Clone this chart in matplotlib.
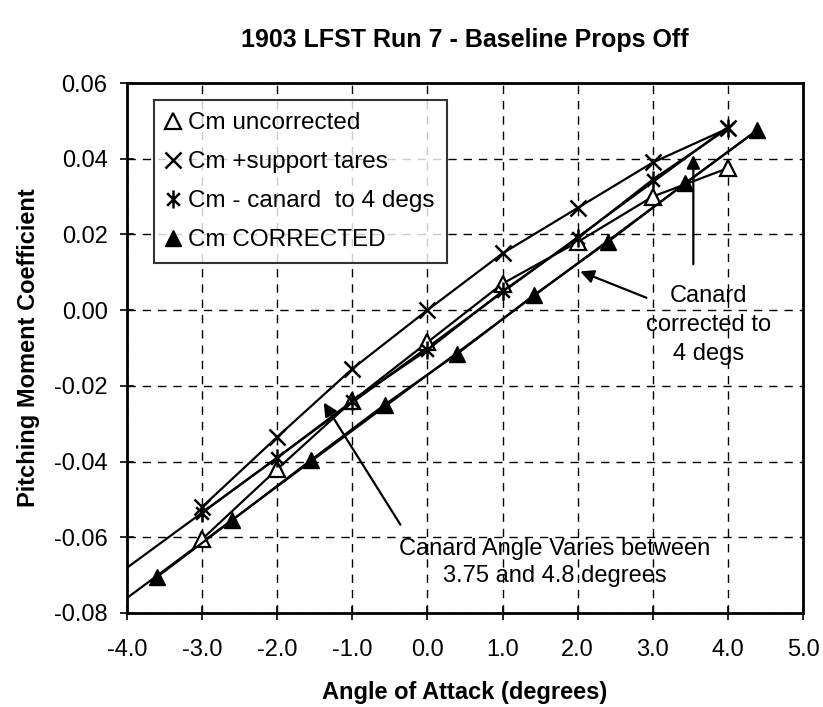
import matplotlib.pyplot as plt
import numpy as np
from matplotlib.path import Path

plt.rcParams['font.family'] = ['Liberation Sans', 'DejaVu Sans']

# angle of attack for the three uncorrected sets
alpha = [-3.0, -2.0, -1.0, 0.0, 1.0, 2.0, 3.0, 4.0]
cm_uncorr = [-0.0605, -0.042, -0.024, -0.0085, 0.007, 0.018, 0.030, 0.0375]
cm_tares = [-0.052, -0.0335, -0.0155, 0.000, 0.015, 0.027, 0.039, 0.048]
cm_canard = [-0.0535, -0.039, -0.024, -0.0105, 0.005, 0.019, 0.0345, 0.048]

# corrected set has its own (corrected) angles
alpha_corr = [-3.6, -2.6, -1.55, -0.57, 0.4, 1.42, 2.4, 3.43, 4.39]
cm_corr = [-0.0705, -0.0555, -0.0396, -0.025, -0.0115, 0.004, 0.018, 0.0335, 0.0475]

# asterisk marker: vertical stroke plus an X
star = Path([(0, -1), (0, 1), (-0.7, -0.7), (0.7, 0.7), (-0.7, 0.7), (0.7, -0.7)],
            [Path.MOVETO, Path.LINETO, Path.MOVETO, Path.LINETO, Path.MOVETO, Path.LINETO])

fig = plt.figure(figsize=(8.23, 7.07), dpi=100)
ax = fig.add_axes([0.1543, 0.133, 0.8214, 0.7496])

lw = 1.6
ax.plot(alpha, cm_uncorr, color='black', lw=lw, marker='^', ms=12,
        mfc='white', mec='black', mew=1.6, label='Cm uncorrected', zorder=4)
ax.plot(alpha, cm_tares, color='black', lw=lw, marker='x', ms=12,
        mew=1.8, label='Cm +support tares', zorder=4)
ax.plot(alpha, cm_canard, color='black', lw=lw, marker=star, ms=13,
        mew=1.8, label='Cm - canard  to 4 degs', zorder=4)
ax.plot(alpha_corr, cm_corr, color='black', lw=lw, marker='^', ms=12,
        mfc='black', mec='black', label='Cm CORRECTED', zorder=4)

# linear trendlines carried out to the left edge
xt = np.linspace(-4.0, 4.0, 50)
pt = np.polyfit(alpha, cm_canard, 1)
ax.plot(xt, np.polyval(pt, xt), color='black', lw=lw, zorder=3)
xc = np.linspace(-4.0, alpha_corr[-1], 50)
pc = np.polyfit(alpha_corr, cm_corr, 1)
ax.plot(xc, np.polyval(pc, xc), color='black', lw=lw, zorder=3)

ax.set_xlim(-4.0, 5.0)
ax.set_ylim(-0.08, 0.06)
xticks = np.arange(-4.0, 5.01, 1.0)
yticks = np.arange(-0.08, 0.061, 0.02)
ax.set_xticks(xticks)
ax.set_yticks(yticks)
ax.set_xticklabels([f'{v:.1f}' for v in xticks])
ax.set_yticklabels([f'{v:.2f}' for v in yticks])
ax.tick_params(direction='inout', length=10, width=1.2, labelsize=17)
ax.tick_params(axis='x', pad=14)
ax.tick_params(axis='y', pad=9)
ax.grid(True, color='black', ls=(0, (6, 5)), lw=1.0)
for s in ax.spines.values():
    s.set_linewidth(2.0)

ax.set_title('1903 LFST Run 7 - Baseline Props Off', fontsize=18,
             fontweight='bold', pad=26)
ax.set_xlabel('Angle of Attack (degrees)', fontsize=17, fontweight='bold', labelpad=14)
ax.set_ylabel('Pitching Moment Coefficient', fontsize=17, fontweight='bold', labelpad=10)

leg = ax.legend(loc='upper left', bbox_to_anchor=(0.04, 0.968), borderaxespad=0,
                fontsize=17.5, frameon=True, fancybox=False, edgecolor='black',
                handlelength=0.6, handletextpad=0.3, labelspacing=0.7, borderpad=0.5)
leg.get_frame().set_linewidth(1.5)
for h in leg.legend_handles:
    h.set_linestyle('none')

arrow = dict(arrowstyle='-|>', color='black', lw=1.6, mutation_scale=20)
ax.annotate('', xy=(-1.40, -0.0238), xytext=(-0.34, -0.0573), arrowprops=arrow)
ax.text(1.69, -0.0666, 'Canard Angle Varies between\n3.75 and 4.8 degrees',
        fontsize=17, ha='center', va='center', linespacing=1.32)

ax.annotate('', xy=(2.0, 0.0105), xytext=(2.95, 0.003), arrowprops=arrow)
ax.annotate('', xy=(3.54, 0.0417), xytext=(3.54, 0.0114), arrowprops=arrow)
ax.text(3.74, -0.004, 'Canard\ncorrected to\n4 degs', fontsize=17,
        ha='center', va='center', linespacing=1.4)

fig.savefig('out.png', dpi=100)
